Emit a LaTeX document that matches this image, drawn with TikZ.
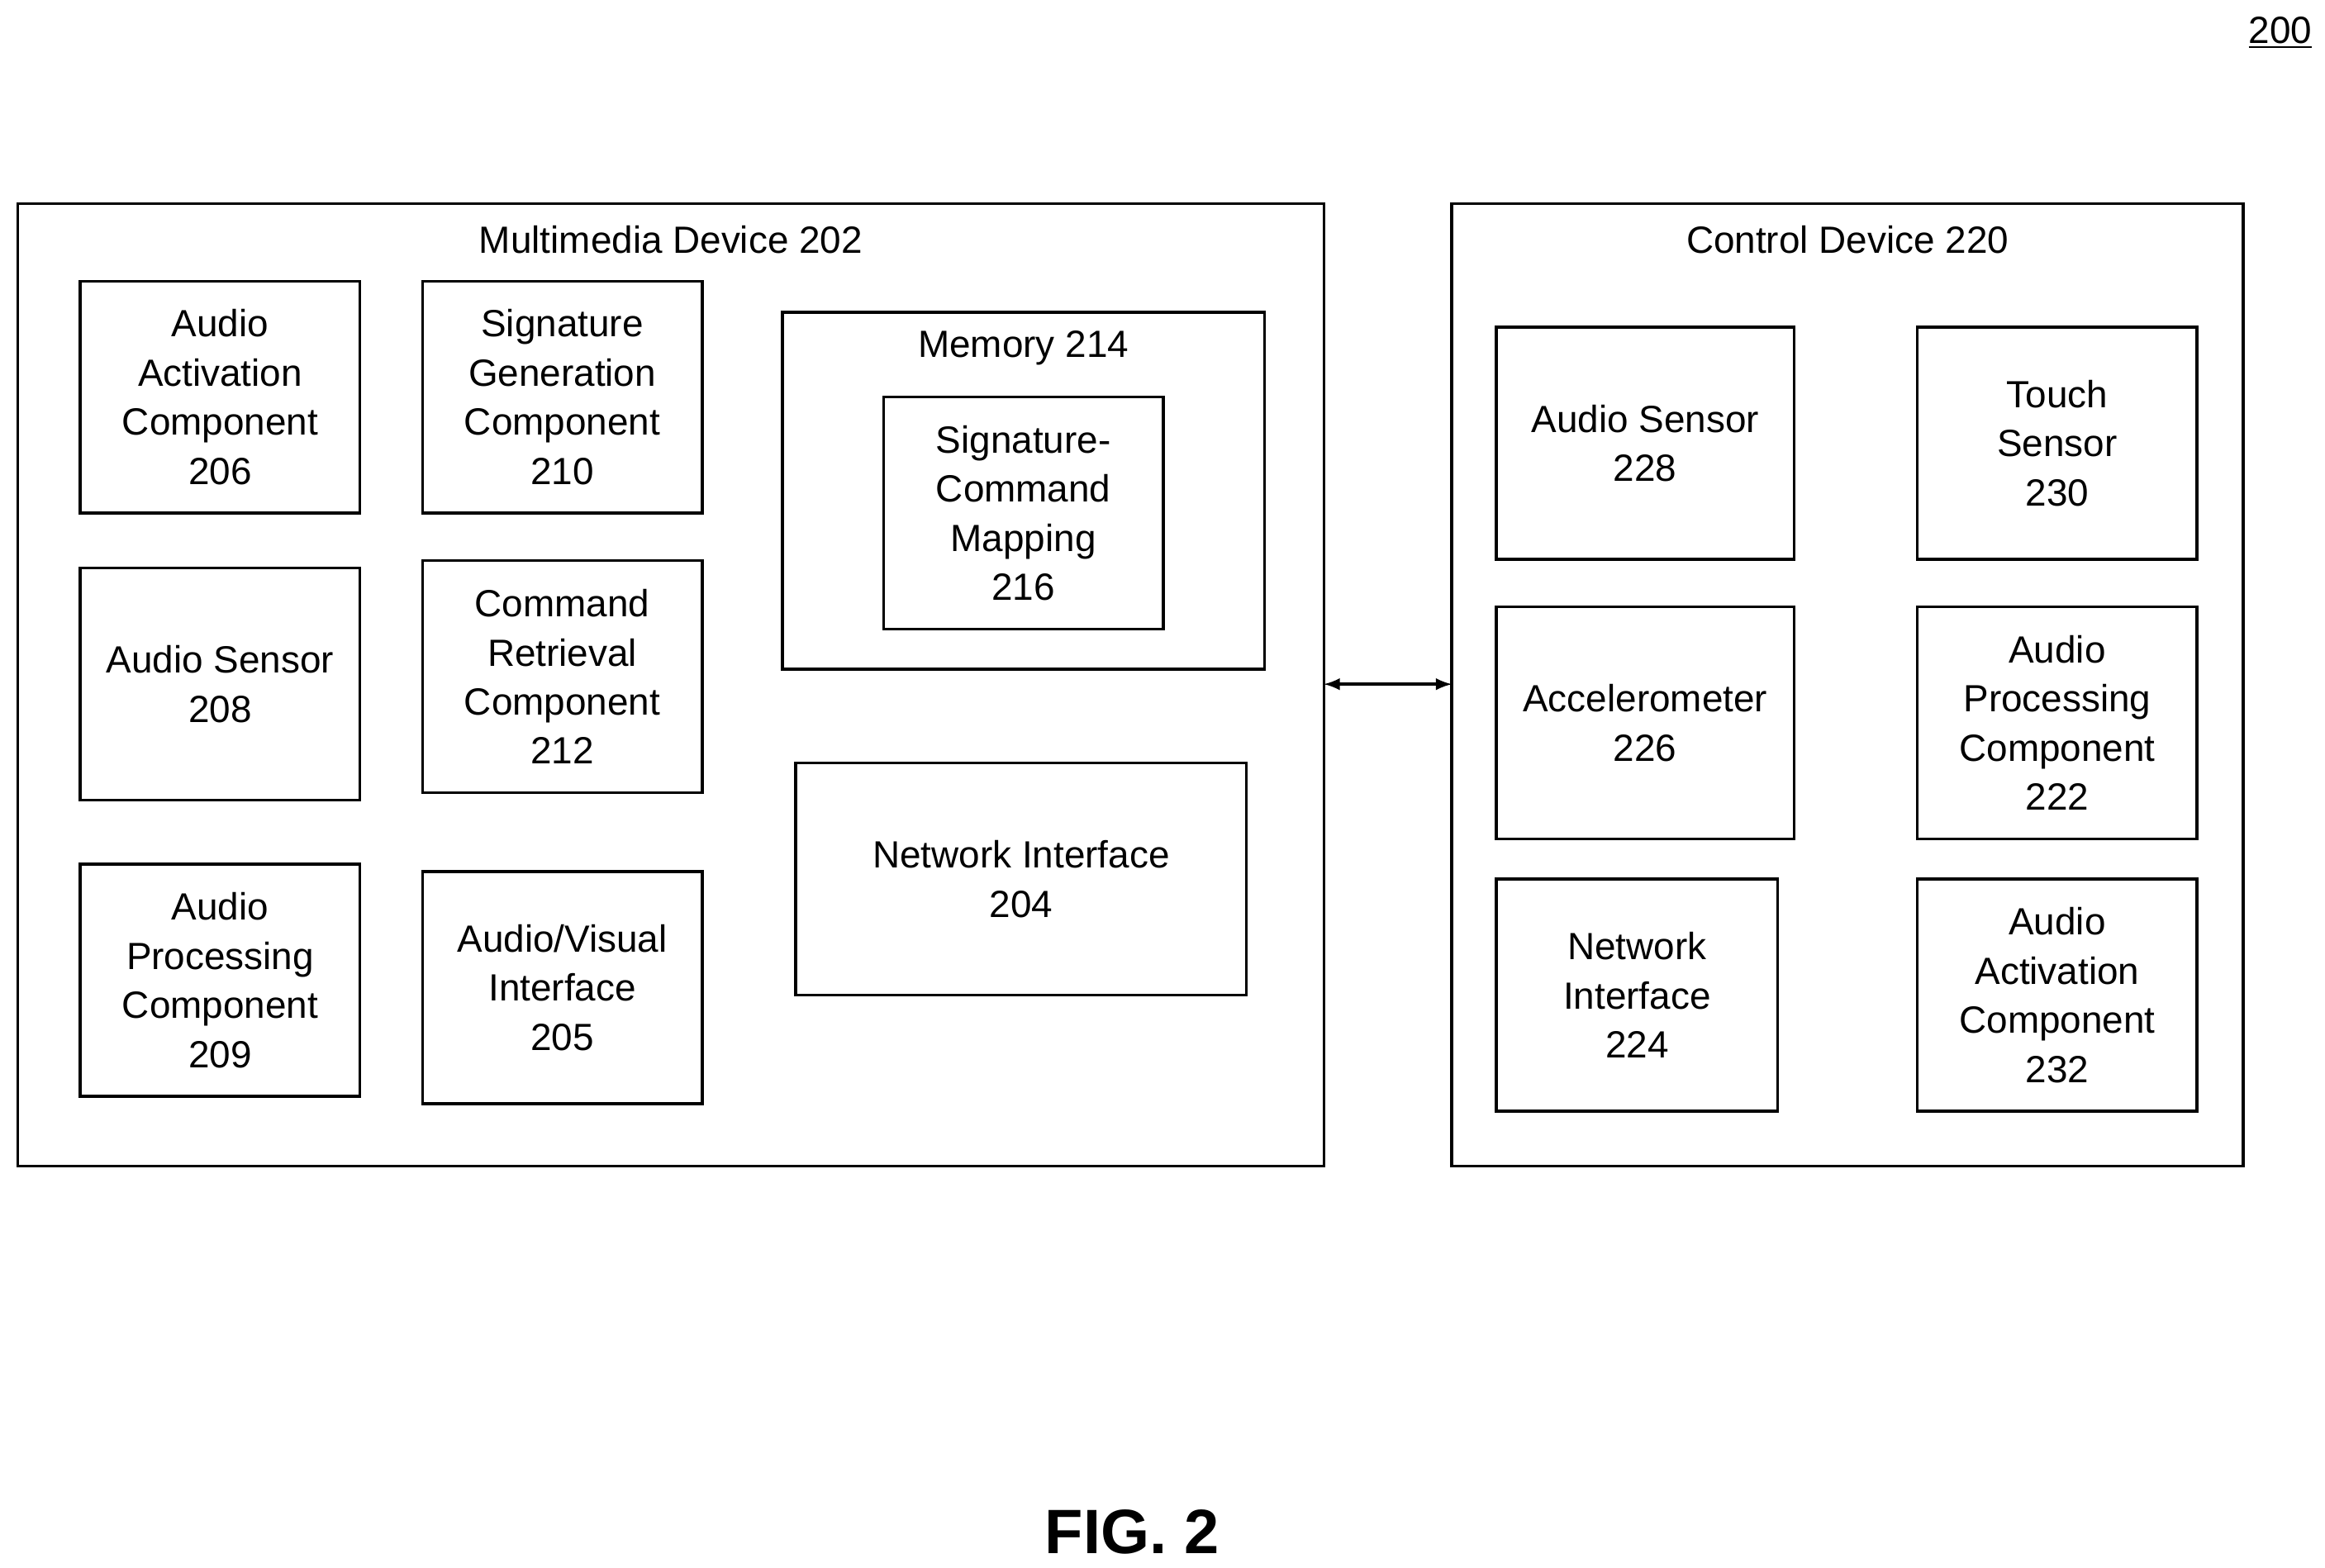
\documentclass[tikz,border=0pt]{standalone}
\usepackage{fontspec}
\setmainfont{Liberation Sans}
\usetikzlibrary{fit}
\begin{document}
\begin{tikzpicture}[x=0.02cm,y=-0.02cm,
  box/.style={draw,line width=1.1pt,inner sep=0pt},
  every label/.style={align=center,font=\fontsize{14.5}{18.8}\selectfont},
  ttl/.style={font=\fontsize{14.5}{18.8}\selectfont}]
\useasboundingbox (0,0) rectangle (1563,1054);
\node[box,fit={(12,137)(890,784)}] (mm) {};
\node[ttl] (mmt) at (451,161) {Multimedia Device 202};
\node[box,fit={(976,137)(1508,784)}] (cd) {};
\node[ttl] (cdt) at (1242,161) {Control Device 220};
\node[box,fit={(54,189)(242,345)},label=center:{Audio\\Activation\\Component\\206}] (b206) {};
\node[box,fit={(284,189)(472,345)},label=center:{Signature\\Generation\\Component\\210}] (b210) {};
\node[box,fit={(54,382)(242,538)},label=center:{Audio Sensor\\208}] (b208) {};
\node[box,fit={(284,377)(472,533)},label=center:{Command\\Retrieval\\Component\\212}] (b212) {};
\node[box,fit={(54,581)(242,737)},label=center:{Audio\\Processing\\Component\\209}] (b209) {};
\node[box,fit={(284,586)(472,742)},label=center:{Audio/Visual\\Interface\\205}] (b205) {};
\node[box,fit={(526,210)(850,450)}] (b214) {};
\node[ttl] (b214t) at (688,234) {Memory 214};
\node[box,fit={(594,267)(782,423)},label=center:{Signature-\\Command\\Mapping\\216}] (b216) {};
\node[box,fit={(535,513)(838,669)},label=center:{Network Interface\\204}] (b204) {};
\node[box,fit={(1006,220)(1206,376)},label=center:{Audio Sensor\\228}] (b228) {};
\node[box,fit={(1289,220)(1477,376)},label=center:{Touch\\Sensor\\230}] (b230) {};
\node[box,fit={(1006,408)(1206,564)},label=center:{Accelerometer\\226}] (b226) {};
\node[box,fit={(1289,408)(1477,564)},label=center:{Audio\\Processing\\Component\\222}] (b222) {};
\node[box,fit={(1006,591)(1195,747)},label=center:{Network\\Interface\\224}] (b224) {};
\node[box,fit={(1289,591)(1477,747)},label=center:{Audio\\Activation\\Component\\232}] (b232) {};
\coordinate (a1) at (890,460);
\coordinate (a2) at (976,460);
\draw[line width=1.1pt,<->,>=latex] (a1) -- (a2);
\node[ttl] (n200) at (1533,22) {\underline{200}};
\node[font=\bfseries\fontsize{24}{28}\selectfont] (fig) at (761,1030) {FIG. 2};
\end{tikzpicture}
\end{document}
